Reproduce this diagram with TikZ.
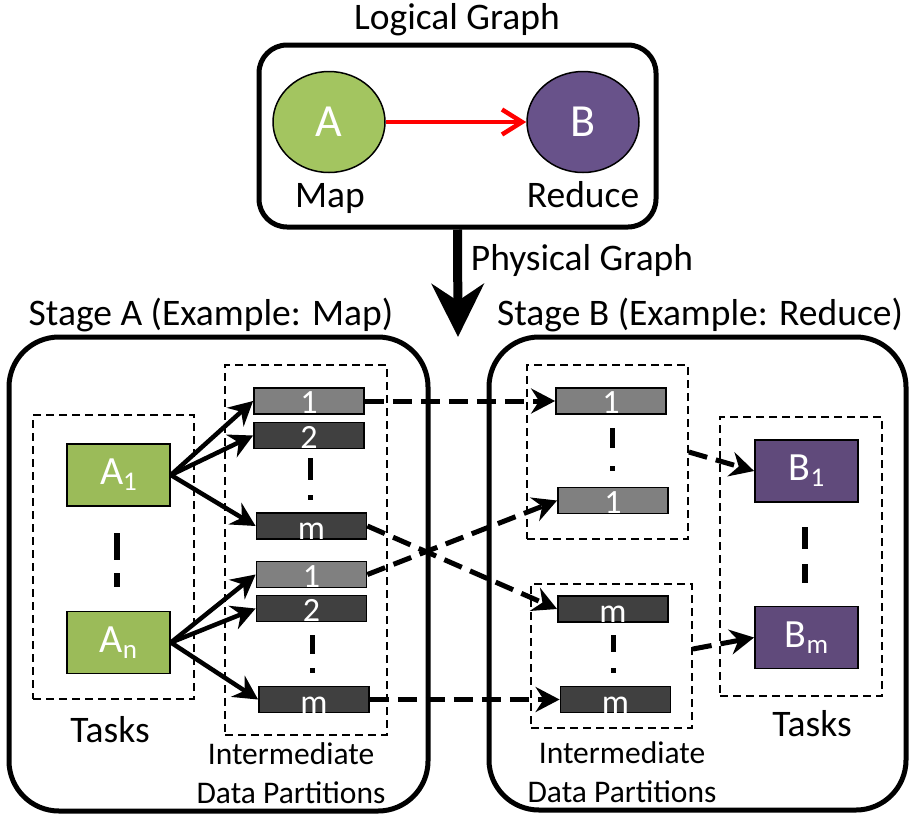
\documentclass[tikz,border=0pt]{standalone}
\usepackage{fontspec}
\setmainfont{Carlito}
\usetikzlibrary{arrows.meta,shapes.geometric}

\definecolor{mapgreen}{RGB}{163,197,96}
\definecolor{taskgreen}{RGB}{155,187,89}
\definecolor{redpurple}{RGB}{104,82,138}
\definecolor{taskpurple}{RGB}{96,74,123}
\definecolor{partlight}{RGB}{128,128,128}
\definecolor{partdark}{RGB}{64,64,64}

\tikzset{
  txt/.style={font=\fontsize{37.5}{40}\selectfont, inner sep=0pt},
  midtxt/.style={font=\fontsize{31.5}{39}\selectfont, align=center, inner sep=0pt},
  stagebox/.style={draw, line width=5pt, rounded corners=50pt, inner sep=0pt},
  groupbox/.style={draw, line width=1.8pt, dash pattern=on 8pt off 5pt, inner sep=0pt},
  opnode/.style={ellipse, draw, line width=1.5pt, minimum width=112pt, minimum height=101pt,
    inner sep=0pt, text=white, font=\fontsize{46}{48}\selectfont},
  taskbox/.style={draw, line width=1.8pt, minimum width=103pt, minimum height=62pt,
    inner sep=0pt, text=white, font=\fontsize{40}{42}\selectfont},
  part/.style={draw, line width=1.8pt, minimum width=110pt, minimum height=26pt, inner sep=0pt},
  lightpart/.style={part, fill=partlight},
  darkpart/.style={part, fill=partdark},
  plab/.style={text=white, font=\fontsize{34}{34}\selectfont, inner sep=0pt, anchor=base},
  flow/.style={line width=4.5pt, -{Stealth[length=24pt,width=25pt,inset=8pt]}},
  shuffle/.style={line width=5pt, dash pattern=on 19pt off 9pt,
    -{Stealth[length=24pt,width=25pt,inset=8pt]}},
  ellip/.style={line width=6pt},
}

\newcommand{\sub}[1]{\raisebox{-0.3ex}{\fontsize{27}{28}\selectfont #1}}

\begin{document}
\begin{tikzpicture}[x=1pt,y=-1pt]
\useasboundingbox (0,0) rectangle (910,815);

% ---------- logical graph ----------
\node[txt] (ltitle) at (457,20) {Logical Graph};
\node[draw, line width=5pt, rounded corners=28pt, minimum width=397pt, minimum height=182pt,
      inner sep=0pt] (logic) at (457.5,136) {};
\node[opnode, fill=mapgreen] (A) at (329,122) {A};
\node[opnode, fill=redpurple] (B) at (583,122) {B};
\node[txt] (lmap) at (330,198) {Map};
\node[txt] (lreduce) at (583,195) {Reduce};
\draw[red, line width=4.5pt, -{Straight Barb[length=20pt,width=25pt]}] (A) -- (B);

% ---------- physical graph arrow ----------
\coordinate (phystip) at (458,337);
\draw[line width=9pt, -{Stealth[length=53pt,width=52pt,inset=17pt]}] (logic.south) -- (phystip);
\node[txt] (lphys) at (582,260) {Physical Graph};

% ---------- stage frames ----------
\node[txt] (stA) at (211,315) {Stage A (Example: Map)};
\node[txt] (stB) at (700,315) {Stage B (Example: Reduce)};
\node[stagebox, minimum width=419pt, minimum height=474pt] (stageA) at (218.5,574) {};
\node[stagebox, minimum width=417pt, minimum height=473pt] (stageB) at (697.5,573.5) {};

% ---------- stage A ----------
\node[groupbox, minimum width=161pt, minimum height=284pt] (tasksA) at (113.5,557) {};
\node[groupbox, minimum width=162pt, minimum height=370pt] (grpA) at (306,550) {};
\node[taskbox, fill=taskgreen] (A1) at (118.5,475) {A\sub{1}};
\node[taskbox, fill=taskgreen] (An) at (118.5,642.5) {A\sub{n}};
\draw[ellip, dash pattern=on 27pt off 13pt] (117,533) -- (117,587);
\node[txt] (ltasksA) at (110,730) {Tasks};
\node[midtxt] (lmidA) at (291,773) {Intermediate\\Data Partitions};

\node[lightpart] (pA1) at (309,401) {};
\node[darkpart] (pA2) at (309,435.5) {};
\node[darkpart] (pAm) at (311.5,526) {};
\node[lightpart] (pA1b) at (311.5,574.5) {};
\node[darkpart] (pA2b) at (311.5,608.5) {};
\node[darkpart] (pAmb) at (314,699.5) {};
\node[plab] at ([yshift=1pt]pA1.south) {1};
\node[plab] at ([yshift=1pt]pA2.south) {2};
\node[plab] at ([yshift=0pt]pAm.south) {m};
\node[plab] at ([yshift=1pt]pA1b.south) {1};
\node[plab] at ([yshift=1pt]pA2b.south) {2};
\node[plab] at ([yshift=0pt]pAmb.south) {m};
\draw[line width=5pt] (310,458) -- (310,480);
\fill (307.5,494.5) rectangle (312.5,499.5);
\draw[line width=5pt] (312,635) -- (312,654);
\fill (309.5,667.5) rectangle (314.5,672.5);

\draw[flow] (A1.east) -- (pA1.west);
\draw[flow] (A1.east) -- (pA2.west);
\draw[flow] (A1.east) -- (pAm.west);
\draw[flow] (An.east) -- (pA1b.west);
\draw[flow] (An.east) -- (pA2b.west);
\draw[flow] (An.east) -- (pAmb.west);

% ---------- stage B ----------
\node[groupbox, minimum width=161pt, minimum height=174pt] (grpBu) at (607.5,452) {};
\node[groupbox, minimum width=161pt, minimum height=144pt] (grpBl) at (611.5,656) {};
\node[groupbox, minimum width=162pt, minimum height=279pt] (tasksB) at (801,556.5) {};
\node[taskbox, fill=taskpurple] (B1) at (806.5,471) {B\sub{1}};
\node[taskbox, fill=taskpurple] (Bm) at (806.5,637.5) {B\sub{m}};
\draw[ellip, dash pattern=on 22pt off 15pt] (805,527) -- (805,583);
\node[txt] (ltasksB) at (812,724) {Tasks};
\node[midtxt] (lmidB) at (622,772) {Intermediate\\Data Partitions};

\node[lightpart] (pB1) at (611,401) {};
\node[lightpart] (pB1b) at (613,500.5) {};
\node[darkpart] (pBm) at (613,609) {};
\node[darkpart] (pBmb) at (615.5,699.5) {};
\node[plab] at ([yshift=1pt]pB1.south) {1};
\node[plab] at ([yshift=1pt]pB1b.south) {1};
\node[plab] at ([yshift=0pt]pBm.south) {m};
\node[plab] at ([yshift=0pt]pBmb.south) {m};
\draw[line width=5pt] (612,428) -- (612,448);
\fill (609.5,465.5) rectangle (614.5,470.5);
\draw[line width=5pt] (613,635) -- (613,652);
\fill (610.5,667.5) rectangle (615.5,672.5);

% ---------- shuffle between stages ----------
\draw[shuffle] (pA1.east) -- (pB1.west);
\draw[shuffle] (pAm.east) -- (pBm.west);
\draw[shuffle] (pA1b.east) -- (pB1b.west);
\draw[shuffle] (pAmb.east) -- (pBmb.west);
\draw[shuffle] (grpBu.east) -- (B1.west);
\draw[shuffle] ([yshift=7pt]grpBl.east) -- (Bm.west);
\end{tikzpicture}
\end{document}
